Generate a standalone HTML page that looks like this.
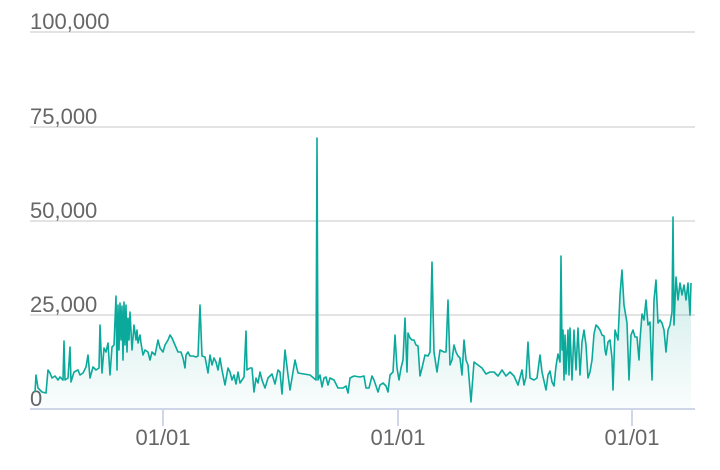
<!DOCTYPE html><html><head><style>body{margin:0;background:#fff}svg{display:block}text{font-family:"Liberation Sans",sans-serif;fill:#666}</style></head><body>
<svg width="720" height="470" viewBox="0 0 720 470">
<defs><linearGradient id="g" x1="0" y1="0" x2="0" y2="1"><stop offset="0" stop-color="#009e8e" stop-opacity="0.35"/><stop offset="1" stop-color="#009e8e" stop-opacity="0.02"/></linearGradient></defs>
<g stroke="#e3e3e3" stroke-width="2"><line x1="30" y1="32" x2="695" y2="32"/><line x1="30" y1="127" x2="695" y2="127"/><line x1="30" y1="221" x2="695" y2="221"/><line x1="30" y1="315" x2="695" y2="315"/></g>
<g font-size="22"><text x="30" y="29">100,000</text><text x="30" y="124">75,000</text><text x="30" y="218">50,000</text><text x="30" y="312">25,000</text><text x="30" y="406">0</text></g>
<polyline fill="url(#g)" stroke="none" points="35,409 35,392 36,375 38,388 42,392 46,393 48,370 50,373 52,378 55,376 58,380 60,377 63,380 64,341 65,380 68,378 70,347 71,382 74,372 78,370 80,375 83,373 86,367 88,355 90,378 93,367 96,370 99,368 100,325 102,373 104,348 106,352 108,343 110,375 112,347 114,345 116,296 117,370 118,305 119,350 120,303 121,340 122,306 123,360 124,302 125,345 126,305 127,352 128,318 129,340 130,312 132,350 134,325 136,340 137,330 138,343 140,335 141,343 143,355 145,350 148,352 150,360 152,352 155,355 158,340 160,348 163,352 165,345 168,340 170,335 172,338 175,345 178,352 181,352 183,358 185,368 186,355 188,352 190,356 193,356 196,357 198,356 200,305 202,356 205,357 208,373 210,355 212,365 214,358 216,362 218,370 220,358 222,370 225,385 228,368 230,372 232,380 234,375 236,384 238,372 240,383 242,380 244,377 246,331 247,370 250,368 252,368 254,392 256,378 258,383 260,372 262,380 265,388 268,378 272,374 275,384 278,370 280,372 282,394 285,350 288,375 290,390 295,360 298,373 310,375 316,380 317,138 318,380 320,375 322,387 324,378 326,377 328,385 330,378 334,380 338,388 343,388 346,386 348,393 350,378 354,376 360,377 364,376 366,388 369,388 372,376 374,380 378,392 380,385 383,383 386,386 388,392 390,375 393,372 395,335 397,368 399,380 401,368 403,360 405,318 407,372 408,333 410,338 412,340 414,340 416,345 418,346 420,376 422,368 425,355 428,356 430,352 432,262 434,352 437,372 440,350 444,352 446,352 448,300 450,365 452,360 454,345 456,352 458,356 460,358 462,375 464,340 466,360 468,365 471,402 474,362 478,365 482,368 486,374 490,372 494,372 498,376 502,370 506,376 510,372 514,376 518,385 522,370 524,385 526,377 528,342 530,378 534,380 537,378 540,355 542,372 546,390 548,375 550,371 552,382 554,386 556,366 558,354 560,362 561,256 562,350 563,330 564,380 565,335 566,374 568,330 569,375 570,328 572,380 574,330 576,370 578,328 580,375 582,342 584,330 586,345 588,378 590,372 592,360 594,334 596,325 598,327 600,330 602,335 604,336 605,350 606,355 608,342 610,340 612,358 613,390 615,330 618,340 620,295 622,270 624,305 627,323 629,380 631,335 633,330 635,337 637,337 639,360 640,340 642,314 644,320 646,300 648,325 650,322 652,380 654,300 656,280 658,323 660,320 662,323 664,330 666,352 668,330 670,325 672,312 673,217 674,325 676,277 678,300 680,283 682,295 684,285 686,300 688,283 690,315 691,283 691,409"/>
<polyline fill="none" stroke="#0aa99b" stroke-width="1.6" stroke-linejoin="round" points="35,392 36,375 38,388 42,392 46,393 48,370 50,373 52,378 55,376 58,380 60,377 63,380 64,341 65,380 68,378 70,347 71,382 74,372 78,370 80,375 83,373 86,367 88,355 90,378 93,367 96,370 99,368 100,325 102,373 104,348 106,352 108,343 110,375 112,347 114,345 116,296 117,370 118,305 119,350 120,303 121,340 122,306 123,360 124,302 125,345 126,305 127,352 128,318 129,340 130,312 132,350 134,325 136,340 137,330 138,343 140,335 141,343 143,355 145,350 148,352 150,360 152,352 155,355 158,340 160,348 163,352 165,345 168,340 170,335 172,338 175,345 178,352 181,352 183,358 185,368 186,355 188,352 190,356 193,356 196,357 198,356 200,305 202,356 205,357 208,373 210,355 212,365 214,358 216,362 218,370 220,358 222,370 225,385 228,368 230,372 232,380 234,375 236,384 238,372 240,383 242,380 244,377 246,331 247,370 250,368 252,368 254,392 256,378 258,383 260,372 262,380 265,388 268,378 272,374 275,384 278,370 280,372 282,394 285,350 288,375 290,390 295,360 298,373 310,375 316,380 317,138 318,380 320,375 322,387 324,378 326,377 328,385 330,378 334,380 338,388 343,388 346,386 348,393 350,378 354,376 360,377 364,376 366,388 369,388 372,376 374,380 378,392 380,385 383,383 386,386 388,392 390,375 393,372 395,335 397,368 399,380 401,368 403,360 405,318 407,372 408,333 410,338 412,340 414,340 416,345 418,346 420,376 422,368 425,355 428,356 430,352 432,262 434,352 437,372 440,350 444,352 446,352 448,300 450,365 452,360 454,345 456,352 458,356 460,358 462,375 464,340 466,360 468,365 471,402 474,362 478,365 482,368 486,374 490,372 494,372 498,376 502,370 506,376 510,372 514,376 518,385 522,370 524,385 526,377 528,342 530,378 534,380 537,378 540,355 542,372 546,390 548,375 550,371 552,382 554,386 556,366 558,354 560,362 561,256 562,350 563,330 564,380 565,335 566,374 568,330 569,375 570,328 572,380 574,330 576,370 578,328 580,375 582,342 584,330 586,345 588,378 590,372 592,360 594,334 596,325 598,327 600,330 602,335 604,336 605,350 606,355 608,342 610,340 612,358 613,390 615,330 618,340 620,295 622,270 624,305 627,323 629,380 631,335 633,330 635,337 637,337 639,360 640,340 642,314 644,320 646,300 648,325 650,322 652,380 654,300 656,280 658,323 660,320 662,323 664,330 666,352 668,330 670,325 672,312 673,217 674,325 676,277 678,300 680,283 682,295 684,285 686,300 688,283 690,315 691,283"/>
<line x1="30" y1="409" x2="695" y2="409" stroke="#d0d5e8" stroke-width="2"/>
<g stroke="#d0d5e8" stroke-width="2"><line x1="163" y1="409" x2="163" y2="426"/><line x1="398" y1="409" x2="398" y2="426"/><line x1="632" y1="409" x2="632" y2="426"/></g>
<g font-size="22" text-anchor="middle"><text x="163" y="445">01/01</text><text x="398" y="445">01/01</text><text x="632" y="445">01/01</text></g>
</svg></body></html>
